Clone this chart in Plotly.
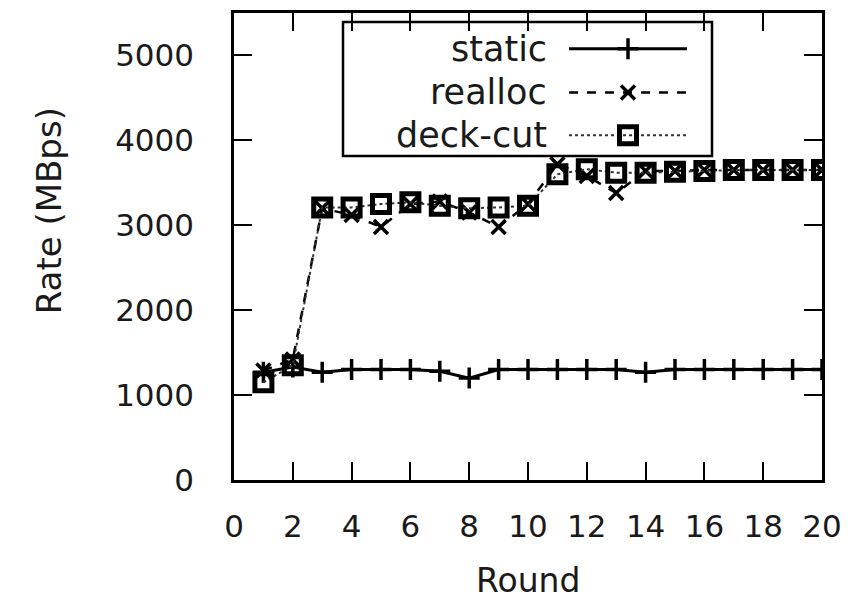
import plotly.graph_objects as go

rounds = list(range(1, 21))
static = [1270, 1330, 1270, 1300, 1300, 1300, 1280, 1200, 1300, 1300,
          1300, 1300, 1300, 1270, 1300, 1300, 1300, 1300, 1300, 1300]
realloc = [1290, 1420, 3200, 3120, 2980, 3250, 3280, 3150, 2980, 3250,
           3720, 3580, 3380, 3640, 3640, 3650, 3650, 3650, 3650, 3650]
deckcut = [1150, 1350, 3210, 3210, 3250, 3270, 3230, 3200, 3210, 3230,
           3600, 3660, 3620, 3620, 3630, 3640, 3650, 3650, 3650, 3650]
series_names = ["static", "realloc", "deck-cut"]
x_ticks = list(range(0, 21, 2))
y_ticks = list(range(0, 5001, 1000))

FONT = "DejaVu Sans, Liberation Sans, sans-serif"
TXT = "#1a1a1a"

styles = [
    dict(line=dict(color="black", width=3, dash="solid"),
         marker=dict(symbol="cross-thin", size=15, line=dict(color="black", width=3.5))),
    dict(line=dict(color="black", width=2.5, dash="dash"),
         marker=dict(symbol="x-thin", size=14, line=dict(color="black", width=3.5))),
    dict(line=dict(color="#333333", width=2, dash="dot"),
         marker=dict(symbol="square-open", size=17, color="black", line=dict(width=5))),
]

fig = go.Figure()
for name, ys, st in zip(series_names, [static, realloc, deckcut], styles):
    fig.add_trace(go.Scatter(x=rounds, y=ys, mode="lines+markers", name=name,
                             line=st["line"], marker=st["marker"], showlegend=False))

# Manual legend (text left, sample right) drawn on an overlay axis in pixel-like units
leg_rows = [46, 90, 133]
for name, st, yy in zip(series_names, styles, leg_rows):
    fig.add_trace(go.Scatter(x=[569, 687], y=[yy, yy], mode="lines", line=st["line"],
                             xaxis="x2", yaxis="y2", showlegend=False, hoverinfo="skip"))
    fig.add_trace(go.Scatter(x=[628], y=[yy], mode="markers", marker=st["marker"],
                             xaxis="x2", yaxis="y2", showlegend=False, hoverinfo="skip"))
    fig.add_annotation(x=549, y=yy, xref="x2", yref="y2", text=name, showarrow=False,
                       xanchor="right", yanchor="middle",
                       font=dict(family=FONT, size=35, color=TXT))

fig.add_shape(type="rect", xref="x2", yref="y2", x0=343, x1=712, y0=19, y1=154,
              line=dict(color="black", width=2.5), fillcolor="white", layer="below")

axis_common = dict(showgrid=False, zeroline=False, showline=True, linecolor="black",
                   linewidth=2.5, mirror="allticks", ticks="inside", ticklen=18,
                   tickwidth=2, tickcolor="black",
                   tickfont=dict(family=FONT, size=31, color=TXT))

fig.update_layout(
    width=864, height=600,
    margin=dict(l=234, r=42, t=10, b=120),
    paper_bgcolor="white", plot_bgcolor="white",
    xaxis=dict(range=[0, 20], tickvals=x_ticks, ticklabelstandoff=17, **axis_common),
    yaxis=dict(range=[0, 5500], tickvals=y_ticks, ticklabelstandoff=31, **axis_common),
    xaxis2=dict(overlaying="x", range=[234, 822], visible=False),
    yaxis2=dict(overlaying="y", range=[480, 10], visible=False),
    showlegend=False,
)

fig.add_annotation(x=-0.315, y=0.577, xref="paper", yref="paper", text="Rate (MBps)",
                   textangle=-90, showarrow=False, xanchor="center", yanchor="middle",
                   font=dict(family=FONT, size=34, color=TXT))
fig.add_annotation(x=0.5, y=-0.215, xref="paper", yref="paper", text="Round",
                   showarrow=False, xanchor="center", yanchor="middle",
                   font=dict(family=FONT, size=33, color=TXT))

fig.write_html("out.html", config={"displayModeBar": False},
               post_script="document.body.style.margin='0';document.body.style.overflow='hidden';")
